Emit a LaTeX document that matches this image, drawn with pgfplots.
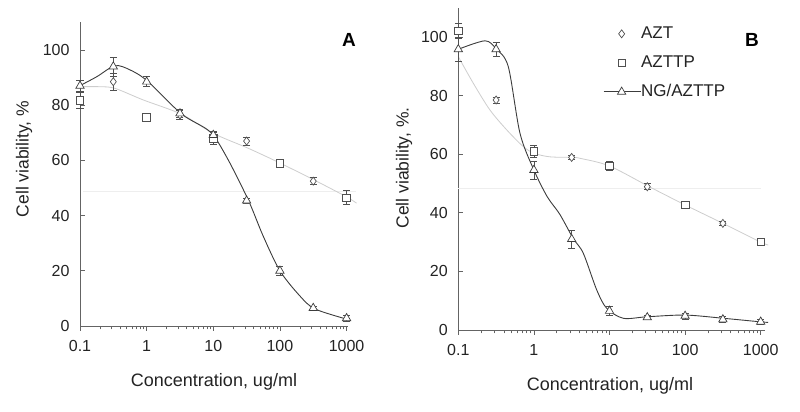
\documentclass[border=0pt]{standalone}
\usepackage{fontspec}
\setmainfont{Liberation Sans}
\usepackage{pgfplots}
\pgfplotsset{compat=1.18}

\definecolor{axisgray}{RGB}{100,100,100}
\definecolor{fitgray}{RGB}{205,205,205}
\definecolor{darkline}{RGB}{60,60,60}
\definecolor{markgray}{RGB}{80,80,80}
\definecolor{refline}{RGB}{238,238,238}
\definecolor{textgray}{RGB}{35,35,35}

\pgfplotsset{
  eb/.style={
    error bars/y dir=both, error bars/y explicit,
    error bars/error bar style={line width=0.6pt, markgray},
    error bars/error mark options={rotate=90, mark size=3.5pt, line width=0.6pt, markgray},
  },
  azt/.style={only marks, mark=diamond*, mark size=4pt,
    mark options={draw=markgray, fill=white, line width=0.7pt}},
  azttp/.style={only marks, mark=square*, mark size=3.8pt,
    mark options={draw=markgray, fill=white, line width=0.7pt}},
  ngazttp/.style={only marks, mark=triangle*, mark size=4.8pt,
    mark options={draw=darkline, fill=white, line width=0.7pt}},
  fitline/.style={fitgray, line width=0.8pt, smooth, no marks},
  ngline/.style={darkline, line width=0.9pt, smooth, no marks},
  legimg/.style={legend image code/.code={\path[draw=none, fill=none] (0pt,-2pt) rectangle (37pt,2pt);
    \draw[mark repeat=2,mark phase=2,##1] plot coordinates {(0pt,0pt) (18pt,0pt) (37pt,0pt)};}},
}

\begin{document}
\begin{tikzpicture}
\path[use as bounding box] (0pt,0pt) rectangle (800pt,412pt);

% ---- panel A ----
\begin{axis}[
  at={(80pt,86pt)}, anchor=south west, scale only axis,
  width=268pt, height=303.6pt,
  xmode=log, xmin=0.1, xmax=1050, ymin=0, ymax=110,
  axis lines=left, axis line style={-, axisgray, line width=0.8pt},
  ytick={0,20,40,60,80,100}, yticklabels={0,20,40,60,80,100},
  xtick={0.1,1,10,100,1000}, xticklabels={0.1,1,10,100,1000},
  minor xtick={0.2,0.3,0.4,0.5,0.6,0.7,0.8,0.9,2,3,4,5,6,7,8,9,20,30,40,50,60,70,80,90,200,300,400,500,600,700,800,900},
  tick align=outside, major tick length=5pt, minor tick length=3.5pt,
  tick style={axisgray, line width=0.6pt},
  ytick style={xshift=5pt},
  tick label style={font=\fontsize{16}{18}\selectfont, text=textgray},
  xticklabel style={yshift=-6pt},
  yticklabel style={xshift=-2pt},
  clip=false]
\addplot[refline, line width=0.6pt] coordinates {(0.11,48.7) (1400,48.7)};
\addplot[fitline] coordinates {
  (0.1,86.7) (0.2,86.7) (0.335,86.1) (0.89,81.9) (3.35,76.7) (10,69.8)
  (33.4,64.4) (97,59.2) (326,52.9) (997,46.8) (1410,44.5)};
\addplot[ngline] coordinates {
  (0.1,87.1) (0.178,90.3) (0.335,94.3) (0.562,92.8) (1.02,88.8) (3.35,76.8)
  (8.9,70.4) (15.8,61.3) (33.4,45.7) (56,32.6) (100,20) (199,10.9) (334,6.2) (1000,2.5)};
\addplot[azt, eb] coordinates {
  (0.316,88.5) +- (0,3.2) (3.16,76.5) +- (0,1.5) (31.6,67) +- (0,1.5) (316,52.5) +- (0,1.2)};
\addplot[azttp, eb] coordinates {
  (0.1,81.8) +- (0,2.8) (1,75.5) +- (0,1.5) (10,68) +- (0,2) (100,59) +- (0,0.6) (1000,46.5) +- (0,2.5)};
\addplot[ngazttp, eb] coordinates {
  (0.1,87) +- (0,2) (0.316,94) +- (0,3.5) (1,88.5) +- (0,1.8) (3.16,77) +- (0,1.5)
  (10,69.2) +- (0,1.5) (31.6,45.4) +- (0,1) (100,20) +- (0,1.5) (316,6.5) +- (0,0.6) (1000,2.8) +- (0,1)};
\end{axis}

% ---- panel B ----
\begin{axis}[
  at={(458.3pt,82pt)}, anchor=south west, scale only axis,
  width=306.7pt, height=322.3pt,
  xmode=log, xmin=0.1, xmax=1140, ymin=0, ymax=110,
  axis lines=left, axis line style={-, axisgray, line width=0.8pt},
  ytick={0,20,40,60,80,100}, yticklabels={0,20,40,60,80,100},
  xtick={0.1,1,10,100,1000}, xticklabels={0.1,1,10,100,1000},
  minor xtick={0.2,0.3,0.4,0.5,0.6,0.7,0.8,0.9,2,3,4,5,6,7,8,9,20,30,40,50,60,70,80,90,200,300,400,500,600,700,800,900},
  tick align=outside, major tick length=5pt, minor tick length=3.5pt,
  tick style={axisgray, line width=0.6pt},
  ytick style={xshift=5pt},
  tick label style={font=\fontsize{16}{18}\selectfont, text=textgray},
  xticklabel style={yshift=-6pt},
  yticklabel style={xshift=-2pt},
  clip=false,
  legend style={at={(rel axis cs:0.462,0.952)}, anchor=north west, draw=none, fill=none,
    font=\fontsize{17}{19}\selectfont, row sep=12pt, text=textgray,
    nodes={inner sep=0pt, text height=13pt, text depth=4pt}},
  legend cell align=left]
\addplot[refline, line width=0.6pt, forget plot] coordinates {(0.1,48.4) (1000,48.4)};
\addplot[fitline, forget plot] coordinates {
  (0.1,93.3) (0.158,84.2) (0.262,75.1) (0.437,68.3) (0.724,62.6) (1.01,60.3) (1.63,59.1)
  (3.26,58.9) (4.07,58.6) (9.94,56) (33.6,48.9) (99.7,42.7) (316,36.4) (980,30.1) (1260,29)};
\addplot[ngline, forget plot] coordinates {
  (0.1,95.8) (0.225,98.7) (0.316,96) (0.458,89.9) (0.655,67.1) (1,54.6) (1.5,45.5)
  (2.2,39.5) (3.3,31.3) (4.5,26.2) (6.77,13.7) (9.18,7.4) (15.2,4.0) (31,4.5)
  (99.7,5.1) (320,4.0) (980,2.8) (1250,2.6)};
\addplot[azt, eb, forget plot] coordinates {
  (0.316,78.5) +- (0,1) (3.16,58.9) +- (0,0.8) (31.6,48.9) +- (0,1) (316,36.4) +- (0,0.8)};
\addplot[azttp, eb, forget plot] coordinates {
  (0.1,102.1) +- (0,2.5) (1,60.9) +- (0,2) (10,56) +- (0,1.5) (100,42.7) +- (0,1) (1000,30.1) +- (0,1)};
\addplot[ngazttp, eb, forget plot] coordinates {
  (0.1,95.8) +- (0,4) (0.316,95.8) +- (0,2.5) (1,54.6) +- (0,3) (3.16,31) +- (0,3)
  (10,6.5) +- (0,1.5) (31.6,4.3) +- (0,0.8) (100,4.8) +- (0,1) (316,3.6) +- (0,1) (1000,2.8) +- (0,0.8)};
\addlegendimage{azt, legimg}
\addlegendentry{AZT}
\addlegendimage{azttp, legimg}
\addlegendentry{AZTTP}
\addlegendimage{darkline, line width=0.9pt, mark=triangle*, mark size=4.8pt,
  mark options={draw=darkline, fill=white, line width=0.7pt}, legimg}
\addlegendentry{NG/AZTTP}
\end{axis}

% ---- labels ----
\node[rotate=90, text=textgray, font=\fontsize{17.5}{19}\selectfont] at (24pt,253pt) {Cell viability, \%};
\node[rotate=90, text=textgray, font=\fontsize{17.5}{19}\selectfont] at (404pt,244pt) {Cell viability, \%.};
\node[text=textgray, font=\fontsize{18}{20}\selectfont] at (214pt,30pt) {Concentration, ug/ml};
\node[text=textgray, font=\fontsize{18}{20}\selectfont] at (610pt,26pt) {Concentration, ug/ml};
\node[font=\fontsize{19}{21}\bfseries\selectfont] at (349pt,372pt) {A};
\node[font=\fontsize{19}{21}\bfseries\selectfont] at (752pt,372pt) {B};
\end{tikzpicture}
\end{document}
